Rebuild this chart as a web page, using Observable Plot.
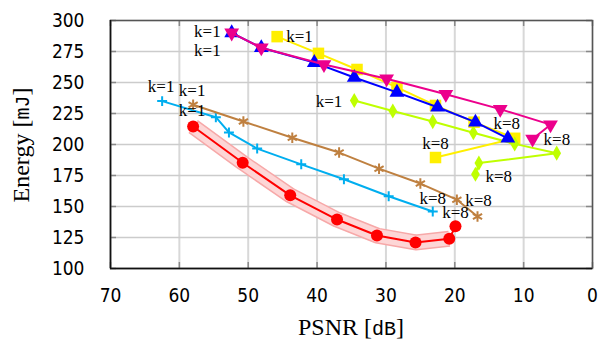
<!DOCTYPE html>
<html><head><meta charset="utf-8">
<script src="https://cdn.jsdelivr.net/npm/d3@7"></script>
<script src="https://cdn.jsdelivr.net/npm/@observablehq/plot@0.6"></script>
<style>
body{margin:0;background:#fff}
svg g[aria-label="text"] text { font-family: "Liberation Serif", "DejaVu Serif", serif; font-size: 17px; }
svg g[aria-label="x-axis tick label"] text, svg g[aria-label="y-axis tick label"] text { font-family: "Liberation Sans Narrow", "DejaVu Sans Condensed", "Liberation Sans", sans-serif; font-size: 19px; }
svg text.atitle { font-family: "Liberation Serif", "DejaVu Serif", serif; font-size: 24px; }
svg text.atitle tspan.unit { font-family: "Liberation Mono", "DejaVu Sans Mono", monospace; font-size: 20px; }
</style>
</head><body><div id="chart"></div>
<script>
const xTicks = [70, 60, 50, 40, 30, 20, 10, 0];
const yTicks = [100, 125, 150, 175, 200, 225, 250, 275, 300];

const redPSNR = [58, 50.8, 43.9, 37.1, 31.3, 25.7, 20.8, 19.9];
const redEnergy = [214.5, 185.3, 159, 139.5, 126.6, 121, 124, 134];
const cyanPSNR = [62.5, 54.7, 52.8, 48.7, 42.3, 36.1, 29.6, 23.2];
const cyanEnergy = [235, 222, 209.7, 196.7, 184, 172, 158.3, 146];
const brownPSNR = [58, 50.7, 43.6, 36.8, 31, 25, 19.7, 16.7];
const brownEnergy = [232, 218.5, 205.5, 193.5, 180.5, 168.5, 155.5, 142];
const bluePSNR = [52.4, 48.1, 40.4, 34.6, 28.4, 22.5, 17.0, 12.3];
const blueEnergy = [290, 278, 266, 254, 242, 230, 218, 205];
const magentaPSNR = [52.4, 48.1, 39, 29.9, 21.3, 13.4, 6.1, 8.7];
const magentaEnergy = [290, 278, 264.5, 253, 240.5, 228.5, 216, 204.5];
const yellowPSNR = [45.8, 39.8, 34.2, 28.4, 22.8, 17.2, 11.3, 22.8];
const yellowEnergy = [287, 273.5, 260.5, 246, 231.5, 218, 205, 189.5];
const greenPSNR = [34.6, 29, 23.2, 17.3, 11.3, 5.2, 16.5, 17];
const greenEnergy = [235.5, 227, 218.5, 209.5, 200.5, 193, 185, 176];

const rows = (xs, ys) => xs.map((x, i) => ({x, y: ys[i]}));
const red = rows(redPSNR, redEnergy);
const cyan = rows(cyanPSNR, cyanEnergy);
const brown = rows(brownPSNR, brownEnergy);
const blue = rows(bluePSNR, blueEnergy);
const magenta = rows(magentaPSNR, magentaEnergy);
const yellow = rows(yellowPSNR, yellowEnergy);
const green = rows(greenPSNR, greenEnergy);

const C = {red: "#ff0000", cyan: "#00aeef", brown: "#bf8040", blue: "#0000ff",
  magenta: "#ec008c", yellow: "#ffef00", green: "#bfff00"};

function label(series, i, text, dx, dy, anchor) {
  return Plot.text([series[i]], {x: "x", y: "y", text: () => text, dx, dy,
    textAnchor: anchor, fill: "#000"});
}
const series = (data, color, dotOpts) => [
  Plot.line(data, {x: "x", y: "y", stroke: color, strokeWidth: 2}),
  Plot.dot(data, {x: "x", y: "y", ...dotOpts})
];

const chart = Plot.plot({
  width: 605, height: 341,
  marginLeft: 110, marginRight: 13, marginTop: 20, marginBottom: 73,
  x: {domain: [70, 0]},
  y: {domain: [100, 300]},
  style: {fontFamily: "'Liberation Sans', Arial, sans-serif", fontSize: "17px", background: "#fff", overflow: "visible"},
  marks: [
    Plot.gridX(xTicks, {stroke: "#d8d8d8", strokeOpacity: 1, strokeWidth: 2}),
    Plot.gridY(yTicks, {stroke: "#cccccc", strokeOpacity: 1, strokeWidth: 1.5}),
    Plot.tickX(xTicks, {x: d => d, insetTop: 242, stroke: "#888", strokeWidth: 1.5}),
    Plot.tickX(xTicks, {x: d => d, insetBottom: 242, stroke: "#888", strokeWidth: 1.5}),
    Plot.tickY(yTicks, {y: d => d, insetLeft: 476, stroke: "#888", strokeWidth: 1.5}),
    Plot.tickY(yTicks, {y: d => d, insetRight: 476, stroke: "#888", strokeWidth: 1.5}),
    Plot.frame({stroke: "#555", strokeWidth: 1.5}),
    Plot.ruleX([70], {stroke: "#111", strokeWidth: 1.5}),
    Plot.ruleY([100], {stroke: "#111", strokeWidth: 1.5}),
    Plot.axisX(xTicks, {tickSize: 0, tickPadding: 20, label: null}),
    Plot.axisY(yTicks, {tickSize: 0, tickPadding: 26, label: null}),
    // red confidence band
    Plot.line(red.slice(0, 7), {x: "x", y: "y", stroke: "#f7a8a8", strokeWidth: 16, strokeLinecap: "butt", strokeLinejoin: "round"}),
    Plot.line(red.slice(0, 7), {x: "x", y: "y", stroke: "#fdd6d6", strokeWidth: 13, strokeLinecap: "butt", strokeLinejoin: "round"}),
    ...series(red, C.red, {fill: C.red, r: 6}),
    ...series(cyan, C.cyan, {symbol: "plus", stroke: C.cyan, strokeWidth: 2, r: 3.3}),
    ...series(brown, C.brown, {symbol: "asterisk", stroke: C.brown, strokeWidth: 2, r: 5}),
    ...series(yellow, C.yellow, {symbol: "square", fill: C.yellow, r: 6.5}),
    ...series(green, C.green, {symbol: "diamond", fill: C.green, r: 4.6}),
    ...series(blue, C.blue, {symbol: "triangle", fill: C.blue, r: 5.5}),
    ...series(magenta, C.magenta, {symbol: "triangle", fill: C.magenta, r: 5.5, rotate: 180}),
    label(blue, 0, "k=1", -11, -1, "end"),
    label(blue, 0, "k=1", -11, 18, "end"),
    label(yellow, 0, "k=1", 9, 0, "start"),
    label(cyan, 0, "k=1", -1, -15, "middle"),
    label(brown, 0, "k=1", -1, -14, "middle"),
    label(red, 0, "k=1", -1, -16, "middle"),
    label(green, 0, "k=1", -12, 1, "end"),
    label(blue, 7, "k=8", -1, -15, "middle"),
    label(magenta, 7, "k=8", 11, 1, "start"),
    label(yellow, 7, "k=8", 0, -14, "middle"),
    label(green, 7, "k=8", 10, 2, "start"),
    label(brown, 7, "k=8", 1, -16, "middle"),
    label(cyan, 7, "k=8", 0, -13, "middle"),
    label(red, 7, "k=8", 0, -14, "middle")
  ]
});

const svg = d3.select(chart);
function title(sel, main, unit) {
  sel.attr("class", "atitle").attr("fill", "#000").attr("text-anchor", "middle");
  sel.append("tspan").text(main + " [");
  sel.append("tspan").attr("class", "unit").text(unit);
  sel.append("tspan").text("]");
}
svg.append("text").attr("x", 351).attr("y", 335).call(title, "PSNR", "dB");
svg.append("text").attr("transform", "translate(29,145) rotate(-90)").call(title, "Energy", "mJ");

document.getElementById("chart").appendChild(chart);
</script>
</body></html>
